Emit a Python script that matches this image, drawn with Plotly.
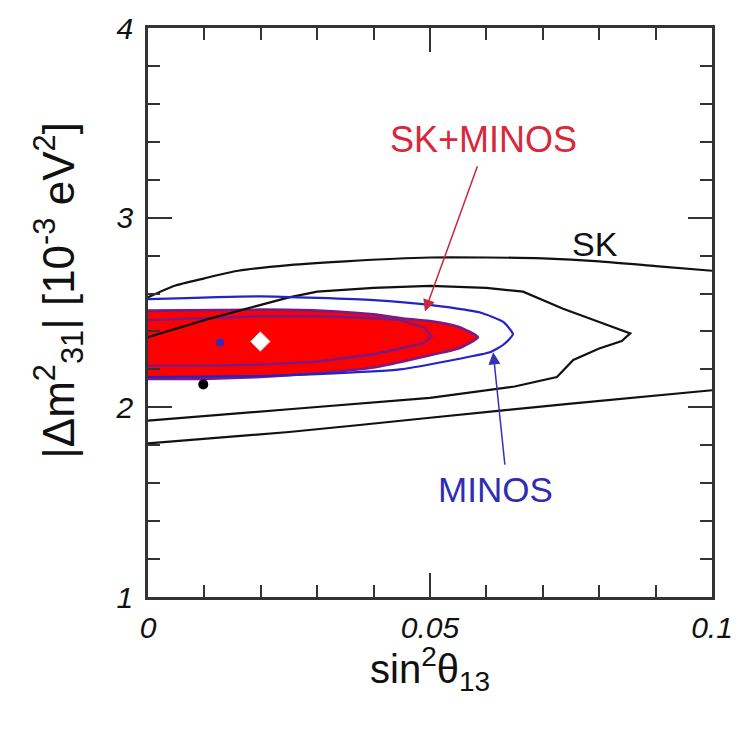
import plotly.graph_objects as go

# ---------------- data ----------------
# SK 99% CL band (open on both sides of the window)
sk_outer_top_x = [0.0, 0.0046, 0.010, 0.016, 0.025, 0.035, 0.050, 0.060, 0.070, 0.080, 0.090, 0.100]
sk_outer_top_y = [2.58, 2.64, 2.68, 2.72, 2.75, 2.77, 2.79, 2.79, 2.785, 2.77, 2.745, 2.72]
sk_outer_bot_x = [0.0, 0.025, 0.050, 0.075, 0.100]
sk_outer_bot_y = [1.81, 1.87, 1.945, 2.02, 2.09]

# SK 90% CL contour (open at the left edge)
sk_inner_x = [0.0, 0.010, 0.020, 0.025, 0.030, 0.040, 0.050, 0.060, 0.0665, 0.0736, 0.080, 0.0855,
              0.084, 0.080, 0.0754, 0.0725, 0.065, 0.050, 0.025, 0.0]
sk_inner_y = [2.37, 2.46, 2.54, 2.58, 2.61, 2.63, 2.64, 2.63, 2.61, 2.52, 2.45, 2.39,
              2.35, 2.31, 2.25, 2.16, 2.11, 2.05, 1.99, 1.93]

# MINOS 90% CL contour
minos_x = [0.0, 0.020, 0.040, 0.050, 0.0589, 0.063, 0.0647, 0.063, 0.0606, 0.055, 0.0447, 0.030, 0.020, 0.0]
minos_y = [2.57, 2.585, 2.565, 2.54, 2.50, 2.45, 2.385, 2.33, 2.29, 2.255, 2.20, 2.175, 2.165, 2.16]

# SK+MINOS allowed region (filled)
comb_x = [0.0, 0.020, 0.030, 0.040, 0.045, 0.050, 0.055, 0.0585, 0.055, 0.050, 0.045, 0.040, 0.030, 0.020, 0.010, 0.0]
comb_y = [2.51, 2.515, 2.51, 2.49, 2.47, 2.455, 2.425, 2.37, 2.31, 2.275, 2.24, 2.21, 2.18, 2.16, 2.15, 2.15]

# SK+MINOS inner contour
comb_in_x = [0.0, 0.010, 0.020, 0.030, 0.040, 0.0447, 0.049, 0.0503, 0.049, 0.0447, 0.040, 0.030, 0.020, 0.010, 0.0]
comb_in_y = [2.46, 2.47, 2.48, 2.48, 2.47, 2.46, 2.42, 2.375, 2.34, 2.31, 2.28, 2.24, 2.225, 2.22, 2.22]

# best-fit points
best_minos = (0.0128, 2.342)
best_comb = (0.0199, 2.347)
best_sk = (0.0098, 2.121)

x_tickvals = [0, 0.05, 0.1]
x_ticktext = ["0", "0.05", "0.1"]
y_tickvals = [1, 2, 3, 4]
y_ticktext = ["1", "2", "3", "4"]

# label / arrow anchors (data coords)
lab_comb = (0.0594, 3.41)
arr_comb_tail = (0.0585, 3.279)
arr_comb_head = (0.0491, 2.505)
lab_sk = (0.0793, 2.86)
lab_minos = (0.0617, 1.565)
arr_minos_tail = (0.0633, 1.69)
arr_minos_head = (0.0612, 2.29)

# ---------------- styles ----------------
FONT = "Liberation Sans, Arial, Helvetica, sans-serif"
RED = "#ff0000"
RIM = "#7a1a86"
BLUE = "#2323c8"
BLACK = "#111111"

fig = go.Figure()

fig.add_trace(go.Scatter(x=comb_x, y=comb_y, mode="lines", fill="toself",
                         fillcolor=RED, line=dict(color=RIM, width=2.6, shape="spline", smoothing=0.5),
                         hoverinfo="skip"))
fig.add_trace(go.Scatter(x=comb_in_x, y=comb_in_y, mode="lines",
                         line=dict(color=RIM, width=2.4), hoverinfo="skip"))
fig.add_trace(go.Scatter(x=sk_outer_top_x, y=sk_outer_top_y, mode="lines",
                         line=dict(color=BLACK, width=2.2, shape="spline", smoothing=0.6), hoverinfo="skip"))
fig.add_trace(go.Scatter(x=sk_outer_bot_x, y=sk_outer_bot_y, mode="lines",
                         line=dict(color=BLACK, width=2.2, shape="spline", smoothing=0.6), hoverinfo="skip"))
fig.add_trace(go.Scatter(x=sk_inner_x, y=sk_inner_y, mode="lines",
                         line=dict(color=BLACK, width=2.2), hoverinfo="skip"))
fig.add_trace(go.Scatter(x=minos_x, y=minos_y, mode="lines",
                         line=dict(color=BLUE, width=2.2, shape="spline", smoothing=0.5), hoverinfo="skip"))

fig.add_trace(go.Scatter(x=[best_minos[0]], y=[best_minos[1]], mode="markers",
                         marker=dict(color="#3a2ab8", size=8), hoverinfo="skip"))
fig.add_trace(go.Scatter(x=[best_comb[0]], y=[best_comb[1]], mode="markers",
                         marker=dict(color="white", size=15, symbol="diamond",
                                     line=dict(color="#f4c0c0", width=1)), hoverinfo="skip"))
fig.add_trace(go.Scatter(x=[best_sk[0]], y=[best_sk[1]], mode="markers",
                         marker=dict(color="black", size=10), hoverinfo="skip"))

annotations = [
    dict(x=arr_comb_head[0], y=arr_comb_head[1], ax=arr_comb_tail[0], ay=arr_comb_tail[1],
         xref="x", yref="y", axref="x", ayref="y", text="", showarrow=True,
         arrowhead=2, arrowsize=1.6, arrowwidth=1.5, arrowcolor="#c8283c"),
    dict(x=arr_minos_head[0], y=arr_minos_head[1], ax=arr_minos_tail[0], ay=arr_minos_tail[1],
         xref="x", yref="y", axref="x", ayref="y", text="", showarrow=True,
         arrowhead=2, arrowsize=1.6, arrowwidth=1.5, arrowcolor="#3434b4"),
    dict(x=lab_comb[0], y=lab_comb[1], xref="x", yref="y", text="SK+MINOS", showarrow=False,
         xanchor="center", yanchor="middle",
         font=dict(family=FONT, size=36, color="#d8283a")),
    dict(x=lab_sk[0], y=lab_sk[1], xref="x", yref="y", text="SK", showarrow=False,
         xanchor="center", yanchor="middle",
         font=dict(family=FONT, size=34, color="#111111")),
    dict(x=lab_minos[0], y=lab_minos[1], xref="x", yref="y", text="MINOS", showarrow=False,
         xanchor="center", yanchor="middle",
         font=dict(family=FONT, size=35, color="#2e2eb4")),
    dict(x=-0.158, y=0.54, xref="paper", yref="paper", textangle=-90, showarrow=False,
         xanchor="center", yanchor="middle",
         text="|Δm<sup>2</sup><sub>31</sub>| [10<sup>-3</sup> eV<sup>2</sup>]",
         font=dict(family=FONT, size=44, color="#111111")),
    dict(x=0.5, y=-0.127, xref="paper", yref="paper", showarrow=False,
         xanchor="center", yanchor="middle",
         text="sin<sup>2</sup>θ<sub>13</sub>",
         font=dict(family=FONT, size=40, color="#111111")),
]

axis_common = dict(showgrid=False, zeroline=False, showline=True, linecolor="#333333", linewidth=2.5,
                   mirror="allticks", ticks="inside", ticklen=24, tickwidth=2, tickcolor="#333333",
                   automargin=False,
                   tickfont=dict(family=FONT, size=30, color="#111111", style="italic"))

fig.update_layout(
    width=725, height=713,
    margin=dict(l=140, r=21, t=20, b=124, autoexpand=False),
    paper_bgcolor="white", plot_bgcolor="white",
    showlegend=False,
    annotations=annotations,
    xaxis=dict(range=[0, 0.1], tickvals=x_tickvals, ticktext=x_ticktext,
               minor=dict(dtick=0.01, ticklen=12, tickwidth=2, tickcolor="#333333", ticks="inside"),
               ticklabelstandoff=2, **axis_common),
    yaxis=dict(range=[1, 4], tickvals=y_tickvals, ticktext=y_ticktext,
               minor=dict(dtick=0.2, ticklen=12, tickwidth=2, tickcolor="#333333", ticks="inside"),
               ticklabelstandoff=6, **axis_common),
)

fig.write_html("out.html")
